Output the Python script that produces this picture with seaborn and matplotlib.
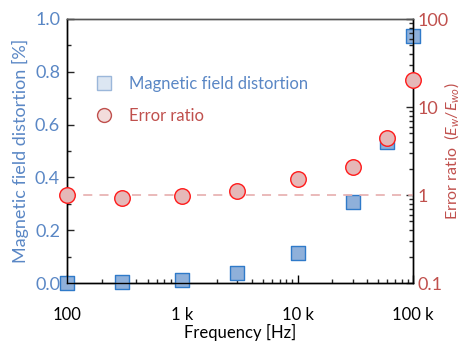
import matplotlib
matplotlib.use("Agg")
import matplotlib.pyplot as plt
import seaborn as sns
import pandas as pd
import numpy as np
from matplotlib.lines import Line2D
from matplotlib.ticker import FixedLocator, LogLocator, NullFormatter, MultipleLocator, FormatStrFormatter, FixedFormatter

frequency = [100, 300, 1000, 3000, 10000, 30000, 60000, 100000]
distortion = [0.0, 0.003, 0.01, 0.037, 0.115, 0.306, 0.535, 0.936]
error_ratio = [1.0, 0.92, 0.975, 1.12, 1.51, 2.1, 4.4, 20.3]
x_tick_vals = [100, 1000, 10000, 100000]
x_tick_labels = ["100", "1 k", "10 k", "100 k"]
r_tick_vals = [0.1, 1, 10, 100]
r_tick_labels = ["0.1", "1", "10", "100"]

sns.set_theme(style="white")
plt.rcParams['font.family'] = ['Lato', 'DejaVu Sans']
plt.rcParams['mathtext.fontset'] = 'custom'
plt.rcParams['mathtext.it'] = 'Lato:italic'
plt.rcParams['mathtext.rm'] = 'Lato'

BLUE_TXT = "#5a87c5"
RED_TXT = "#c0504d"

df = pd.DataFrame({"f": frequency, "d": distortion, "e": error_ratio})

fig = plt.figure(figsize=(4.63, 3.41), dpi=100)
ax = fig.add_axes([67/463, 1-283/341, (413-67)/463, (283-19)/341])
ax2 = ax.twinx()

sns.scatterplot(data=df, x="f", y="d", ax=ax, marker="s", s=105,
                color="#8fb0da", edgecolor="#2f7ac9", linewidth=1.0, clip_on=False, zorder=3, legend=False)
ax2.axhline(1, color="#e8b4b4", lw=1.3, dashes=(5, 4), zorder=1)
sns.scatterplot(data=df, x="f", y="e", ax=ax2, marker="o", s=125,
                color="#e5b8b8", edgecolor="#ff1a1a", linewidth=1.0, clip_on=False, zorder=4, legend=False)

ax.set_xscale("log")
ax.set_xlim(100, 100000)
ax.set_ylim(0, 1.0)
ax2.set_yscale("log")
ax2.set_ylim(0.1, 100)

ax.xaxis.set_major_locator(FixedLocator(x_tick_vals))
ax.xaxis.set_major_formatter(FixedFormatter(x_tick_labels))
ax.xaxis.set_minor_locator(LogLocator(base=10, subs=np.arange(2, 10)))
ax.xaxis.set_minor_formatter(NullFormatter())
ax.yaxis.set_major_locator(MultipleLocator(0.2))
ax.yaxis.set_minor_locator(MultipleLocator(0.1))
ax.yaxis.set_major_formatter(FormatStrFormatter("%.1f"))

ax2.yaxis.set_major_locator(FixedLocator(r_tick_vals))
ax2.yaxis.set_major_formatter(FixedFormatter(r_tick_labels))
ax2.yaxis.set_minor_locator(LogLocator(base=10, subs=np.arange(2, 10)))
ax2.yaxis.set_minor_formatter(NullFormatter())

for a in (ax, ax2):
    for s in a.spines.values():
        s.set_color("black")
        s.set_linewidth(1.0)
    a.spines["top"].set_color("#555555")

ax.tick_params(axis="x", which="major", direction="in", length=6, width=1, colors="black",
               labelsize=12, pad=17, top=False, bottom=True)
ax.tick_params(axis="x", which="minor", direction="in", length=3, width=1, top=False, bottom=True)
ax.tick_params(axis="y", which="major", direction="in", length=5, width=1, labelsize=13,
               labelcolor=BLUE_TXT, pad=5, left=True, right=False)
ax.tick_params(axis="y", which="minor", direction="in", length=3, width=1, left=True, right=False)
ax2.tick_params(axis="y", which="major", direction="in", length=5, width=1, labelsize=13,
                labelcolor=RED_TXT, pad=3, right=True, left=False)
ax2.tick_params(axis="y", which="minor", direction="in", length=3, width=1, right=True, left=False)

ax.set_xlabel("Frequency [Hz]", fontsize=12, color="black", labelpad=1)
ax.set_ylabel("Magnetic field distortion [%]", fontsize=13, color=BLUE_TXT, labelpad=4)
ax2.set_ylabel(r"Error ratio  ($E_w/E_{wo}$)", fontsize=11.5, color=RED_TXT)
ax2.yaxis.set_label_coords(1.084, 0.5)

handles = [
    Line2D([], [], marker="s", linestyle="none", markersize=10, markerfacecolor="#dce6f2",
           markeredgecolor="#9bb7da", markeredgewidth=1.0, label="Magnetic field distortion"),
    Line2D([], [], marker="o", linestyle="none", markersize=10, markerfacecolor="#f2dcdb",
           markeredgecolor="#c0504d", markeredgewidth=1.0, label="Error ratio"),
]
leg = ax.legend(handles=handles, loc="upper left", bbox_to_anchor=(0.04, 0.81), frameon=False,
                fontsize=12, handletextpad=0.5, labelspacing=0.95, borderaxespad=0)
for t, c in zip(leg.get_texts(), [BLUE_TXT, RED_TXT]):
    t.set_color(c)

fig.savefig("out.png", dpi=100)
